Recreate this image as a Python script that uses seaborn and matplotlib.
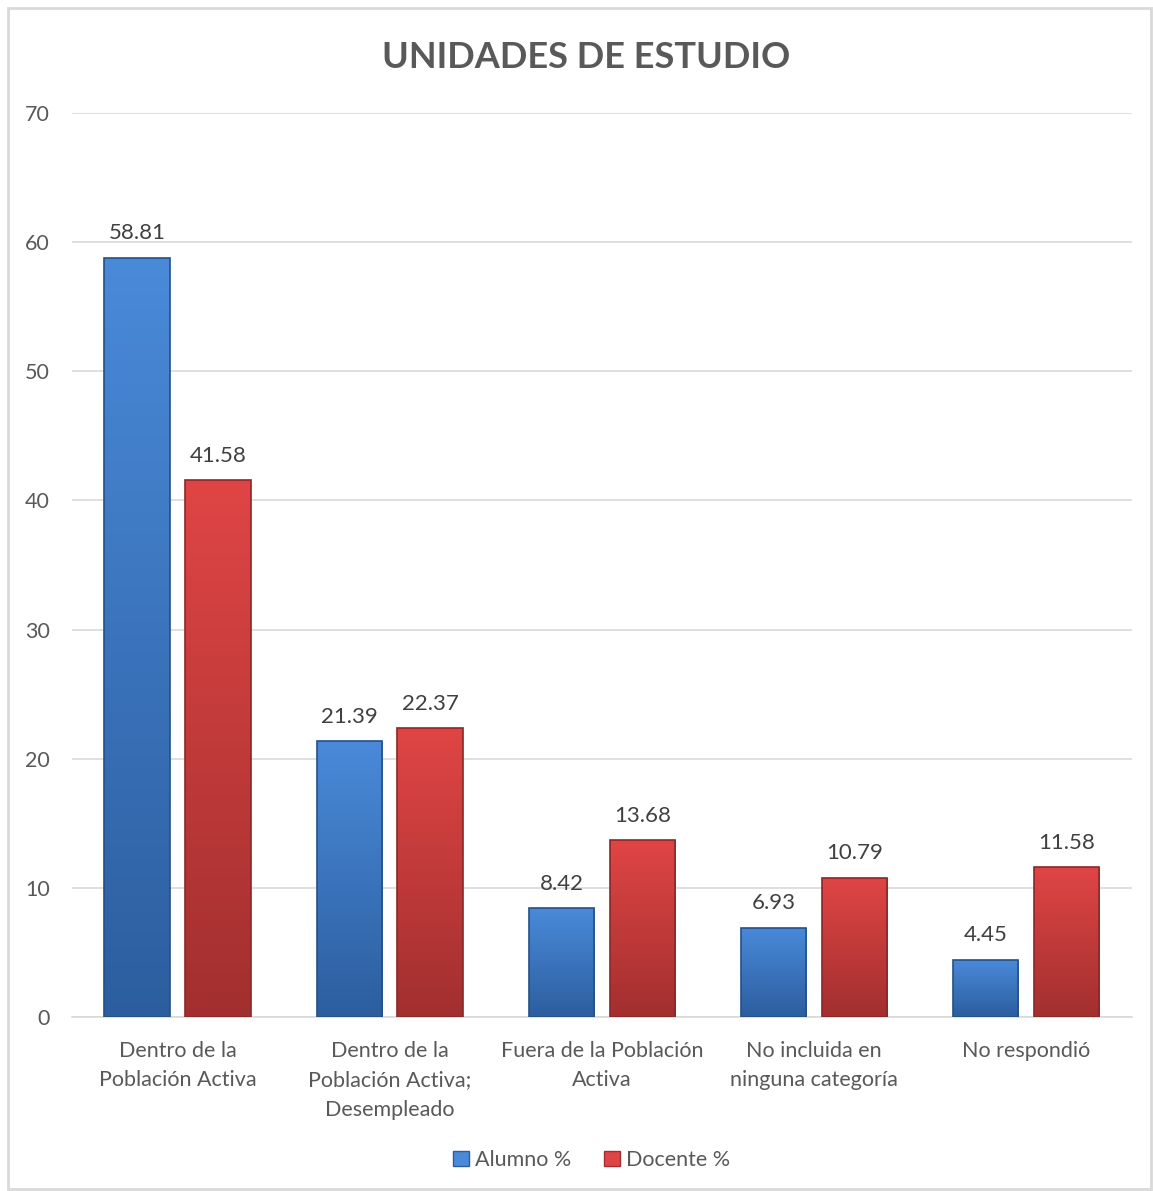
import numpy as np
import pandas as pd
import matplotlib
matplotlib.use("Agg")
import matplotlib.pyplot as plt
import matplotlib.colors as mcolors
from matplotlib.patches import Rectangle
import seaborn as sns

categories = [
    "Dentro de la\nPoblación Activa",
    "Dentro de la\nPoblación Activa;\nDesempleado",
    "Fuera de la Población\nActiva",
    "No incluida en\nninguna categoría",
    "No respondió",
]
alumno = [58.81, 21.39, 8.42, 6.93, 4.45]
docente = [41.58, 22.37, 13.68, 10.79, 11.58]
series_names = ["Alumno %", "Docente %"]
title = "UNIDADES DE ESTUDIO"
y_ticks = [0, 10, 20, 30, 40, 50, 60, 70]

df = pd.DataFrame({
    "categoria": categories * 2,
    "valor": alumno + docente,
    "serie": [series_names[0]] * len(categories) + [series_names[1]] * len(categories),
})

sns.set_theme(style="white")
plt.rcParams["font.family"] = ["Lato", "DejaVu Sans"]

text_color = "#595959"
grid_color = "#d9d9d9"
# (top, bottom) colours of the vertical gradient in each series
base_colors = {"Alumno %": ("#4a8ad9", "#2c5e9f"), "Docente %": ("#e04545", "#a22f2f")}

fig = plt.figure(figsize=(11.53, 11.91), dpi=100)
ax = fig.add_axes([0.0624, 0.1461, 0.9194, 0.7590])

sns.barplot(data=df, x="categoria", y="valor", hue="serie",
            palette={k: v[0] for k, v in base_colors.items()},
            width=0.764, gap=0.186, ax=ax, legend=False, zorder=3)

ax.set_ylim(0, 70)
ax.set_yticks(y_ticks)
ax.yaxis.grid(True, color=grid_color, linewidth=1.2, zorder=0)
ax.set_axisbelow(True)
for s in ["top", "right", "left"]:
    ax.spines[s].set_visible(False)
ax.spines["bottom"].set_color(grid_color)
ax.spines["bottom"].set_linewidth(1.2)
ax.tick_params(axis="both", length=0, colors=text_color, labelsize=15.5)
ax.tick_params(axis="x", pad=17)
ax.tick_params(axis="y", pad=16)
ax.set_xlabel("")
ax.set_ylabel("")
for lbl in ax.get_xticklabels():
    lbl.set_linespacing(1.6)
    lbl.set_color(text_color)

# vertical gradient fill for each bar, plus value labels
n = len(categories)
bars = ax.patches[: 2 * n]
for i, bar in enumerate(bars):
    serie = series_names[i // n]
    top_c, bot_c = base_colors[serie]
    cmap = mcolors.LinearSegmentedColormap.from_list("g", [bot_c, top_c])
    x0, w = bar.get_x(), bar.get_width()
    h = bar.get_height()
    grad = np.linspace(0, 1, 256).reshape(-1, 1)
    im = ax.imshow(grad, cmap=cmap, aspect="auto", origin="lower",
                   extent=[x0, x0 + w, 0, h], zorder=3)
    im.set_clip_path(bar)
    bar.set_facecolor("none")
    bar.set_edgecolor(mcolors.to_hex(np.array(mcolors.to_rgb(bot_c)) * 0.85))
    bar.set_linewidth(1.2)
    bar.set_zorder(4)
    ax.text(x0 + w / 2, h + 1.1, f"{h:.2f}", ha="center", va="bottom",
            fontsize=16, color="#404040", zorder=5)

ax.set_xlim(-0.5, n - 0.5)
ax.set_ylim(0, 70)

handles = [Rectangle((0, 0), 1, 1, facecolor=base_colors[s][0], edgecolor=base_colors[s][1])
           for s in series_names]
fig.legend(handles, series_names, loc="center", bbox_to_anchor=(0.513, 0.026),
           ncol=2, frameon=False, fontsize=15.5, handlelength=0.75, handleheight=0.75,
           handletextpad=0.3, columnspacing=1.5, labelcolor=text_color)

fig.text(0.508, 0.952, title, ha="center", va="center", fontsize=26,
         fontweight="bold", color=text_color)

fig.patches.append(Rectangle((0.007, 0.002), 0.991, 0.991, transform=fig.transFigure,
                             fill=False, edgecolor=grid_color, linewidth=2))

fig.savefig("out.png", dpi=100, facecolor="white")
